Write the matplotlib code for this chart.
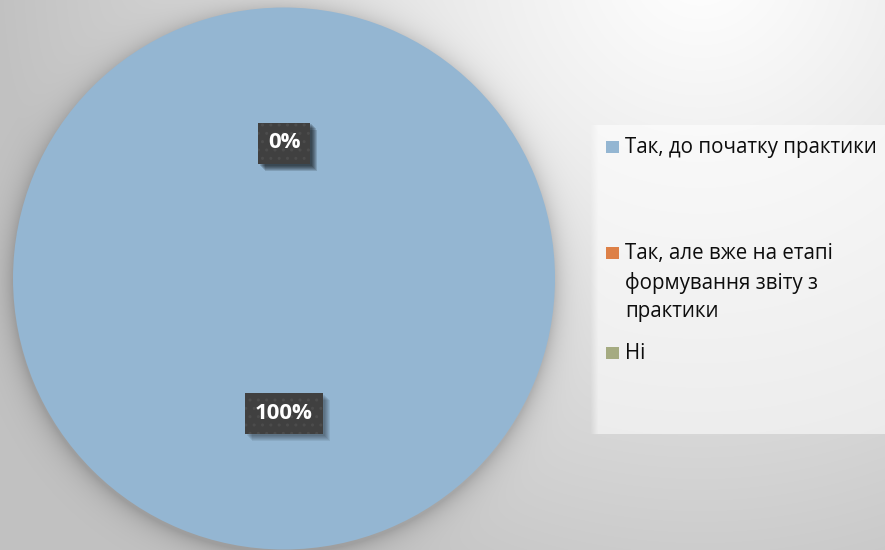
import numpy as np
import matplotlib
matplotlib.use("Agg")
import matplotlib.pyplot as plt
from matplotlib.patches import Rectangle

# ─────────────────────────────────────────────
#  DATA
# ─────────────────────────────────────────────
categories = [
    "Так, до початку практики",
    "Так, але вже на етапі\nформування звіту з\nпрактики",
    "Ні",
]
values = [100, 0, 0]
colors = ["#94B6D2", "#DD8047", "#A5AB81"]

W, H = 885, 550
FONT = ["Open Sans", "DejaVu Sans"]
plt.rcParams["font.family"] = FONT
plt.rcParams["hatch.linewidth"] = 1.0

# pie geometry in pixels
CX, CY, R = 284, 278.5, 271

# ─────────────────────────────────────────────
#  BACKGROUND (gradient + pie shadow + legend panel)
# ─────────────────────────────────────────────
yy, xx = np.mgrid[0:H, 0:W].astype(float)
d_light = np.hypot((xx - 700) / 1.0, yy + 40)
bg = 1.0 - 0.24 * np.clip(d_light / 700, 0, 1) ** 1.1

# soft shadow around the pie
d_pie = np.hypot(xx - CX + 1, yy - CY - 3) - R
shadow = np.where(d_pie > 0, np.exp(-d_pie / 11.0), 1.0)
bg = bg * (1 - 0.18 * shadow)

# translucent legend panel
panel = ((yy >= 125) & (yy <= 433)).astype(float)
ramp = np.clip((xx - 590) / 8, 0, 1)
a = 0.55 * panel * ramp
bg = bg * (1 - a) + a * 1.0

fig = plt.figure(figsize=(W / 100, H / 100), dpi=100)
bg_ax = fig.add_axes([0, 0, 1, 1], zorder=0)
bg_ax.imshow(np.dstack([bg] * 3), extent=(0, W, H, 0), aspect="auto",
             interpolation="bilinear")
bg_ax.set_axis_off()

# ─────────────────────────────────────────────
#  PIE
# ─────────────────────────────────────────────
ax = fig.add_axes([(CX - R) / W, (H - CY - R) / H, 2 * R / W, 2 * R / H],
                  zorder=1)
ax.patch.set_alpha(0)
wedges, texts, autotexts = ax.pie(
    values, colors=colors, startangle=90, counterclock=False,
    autopct="%1.0f%%", pctdistance=0.50, radius=1.0,
    wedgeprops=dict(linewidth=0),
)
ax.set_xlim(-1, 1)
ax.set_ylim(-1, 1)
ax.set_aspect("auto")
ax.set_axis_off()

for t in autotexts:
    t.set_color("white")
    t.set_fontweight("bold")
    t.set_fontsize(16)
    t.set_zorder(5)
    t.set_bbox(dict(boxstyle="square,pad=0.45", facecolor="#404040",
                    edgecolor="#4c4c4c", linewidth=0, hatch=".."))

# soft drop shadow under label boxes: stacked translucent rectangles
fig.canvas.draw()
renderer = fig.canvas.get_renderer()
for t in autotexts:
    bb = t.get_bbox_patch().get_window_extent(renderer)
    for o in (7, 6, 5, 4, 3, 2):
        ax.add_patch(Rectangle(((bb.x0 + o) / W, (bb.y0 - o) / H),
                               bb.width / W, bb.height / H,
                               transform=fig.transFigure, facecolor="black",
                               alpha=0.07, linewidth=0, zorder=4))

# ─────────────────────────────────────────────
#  LEGEND (manual, irregular spacing like the source)
# ─────────────────────────────────────────────
legend_y = [147, 253, 353]   # pixel centre of first line of each entry
for lab, col, ly in zip(categories, colors, legend_y):
    fig.patches.append(Rectangle((606 / W, 1 - (ly + 6) / H), 13 / W, 12 / H,
                                 transform=fig.transFigure,
                                 facecolor=col, edgecolor="none", zorder=3))
    fig.text(625 / W, 1 - (ly - 10) / H, lab, fontsize=14.8, color="#0d0d0d",
             va="top", ha="left", linespacing=1.45, zorder=3)

fig.savefig("out.png", dpi=100)
